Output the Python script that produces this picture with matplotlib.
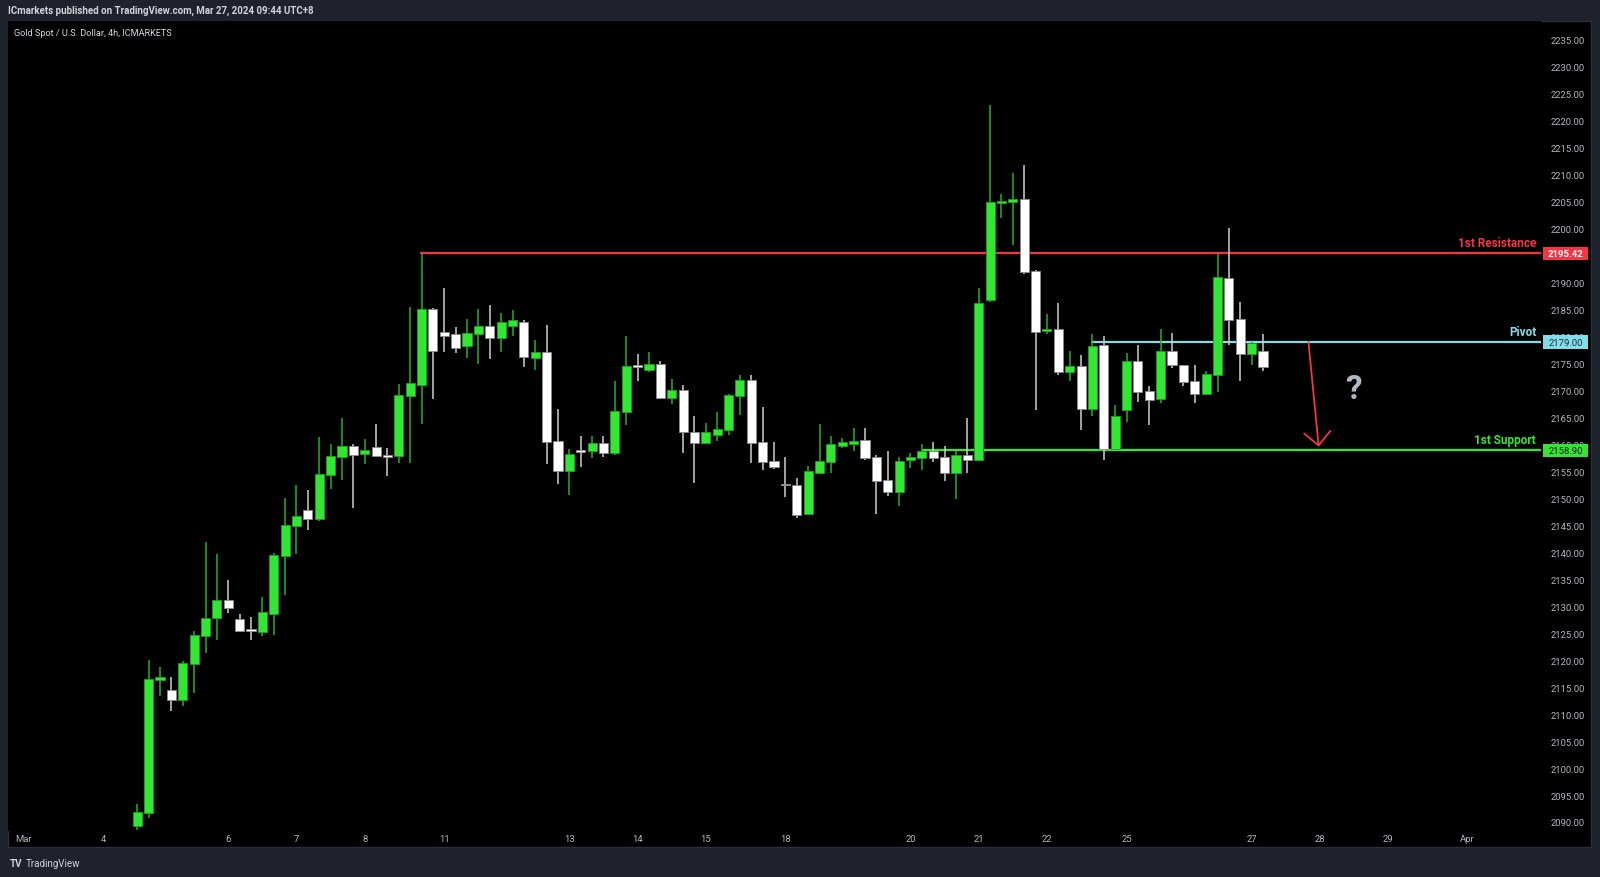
import numpy as np
import matplotlib
matplotlib.use("Agg")
import matplotlib.pyplot as plt
from matplotlib.patches import Rectangle
from matplotlib.transforms import blended_transform_factory

plt.rcParams['font.family'] = ['Roboto', 'DejaVu Sans']

# 4h candles, XAUUSD (ICMarkets), Mar 4 - Mar 27 2024
opens = [2089.2, 2091.6, 2116.4, 2114.5, 2112.6, 2119.3, 2124.5, 2127.8, 2131.2, 2127.6,
         2125.6, 2125.3, 2128.5, 2139.4, 2144.8, 2147.8, 2146.2, 2154.4, 2157.7, 2159.7,
         2158.2, 2159.5, 2157.9, 2157.9, 2169.0, 2171.1, 2185.1, 2180.8, 2180.4, 2178.2,
         2180.4, 2181.9, 2179.7, 2181.9, 2182.8, 2176.1, 2177.1, 2160.6, 2155.0, 2158.8,
         2158.7, 2160.3, 2158.4, 2166.1, 2174.5, 2173.8, 2174.9, 2168.7, 2170.1, 2162.4,
         2160.2, 2161.8, 2162.6, 2169.0, 2171.9, 2160.4, 2156.9, 2152.6, 2152.5, 2147.1,
         2154.8, 2156.7, 2159.8, 2160.1, 2160.8, 2157.7, 2153.4, 2151.1, 2157.1, 2157.5,
         2158.8, 2157.6, 2154.8, 2158.0, 2157.1, 2186.7, 2204.8, 2204.9, 2205.5, 2192.1,
         2181.0, 2181.4, 2173.4, 2174.5, 2166.6, 2178.4, 2159.2, 2166.3, 2175.4, 2170.0,
         2168.4, 2177.3, 2174.7, 2171.8, 2169.4, 2172.9, 2190.9, 2183.3, 2176.7, 2177.4]
highs = [2093.3, 2120.0, 2118.7, 2116.9, 2119.8, 2125.4, 2142.0, 2139.7, 2134.9, 2128.6,
         2128.1, 2131.8, 2139.9, 2150.1, 2152.4, 2151.6, 2161.4, 2160.0, 2164.9, 2160.0,
         2161.0, 2163.8, 2159.3, 2171.2, 2185.5, 2195.4, 2185.3, 2189.1, 2181.7, 2183.3,
         2185.2, 2185.8, 2184.4, 2184.9, 2183.1, 2179.3, 2182.2, 2166.6, 2159.2, 2161.6,
         2161.6, 2161.6, 2171.8, 2180.1, 2176.8, 2177.2, 2175.5, 2172.1, 2171.0, 2165.2,
         2163.9, 2166.1, 2169.4, 2172.9, 2172.9, 2166.9, 2160.4, 2157.6, 2153.8, 2156.1,
         2163.8, 2161.5, 2161.2, 2163.0, 2163.0, 2158.0, 2158.8, 2157.6, 2158.5, 2160.1,
         2160.4, 2159.7, 2158.8, 2165.0, 2189.0, 2223.0, 2206.4, 2210.3, 2211.8, 2192.3,
         2184.2, 2186.2, 2177.4, 2176.5, 2180.4, 2180.1, 2167.3, 2177.0, 2178.5, 2170.8,
         2181.5, 2180.7, 2174.8, 2174.7, 2173.7, 2195.3, 2200.1, 2186.4, 2179.0, 2180.5]
lows = [2088.5, 2090.7, 2113.4, 2110.6, 2111.5, 2114.0, 2121.3, 2123.8, 2128.7, 2125.3,
        2123.8, 2124.5, 2124.7, 2132.1, 2139.6, 2144.2, 2145.8, 2151.7, 2153.4, 2148.2,
        2156.3, 2157.6, 2154.1, 2156.6, 2156.5, 2163.8, 2168.4, 2177.2, 2177.0, 2176.0,
        2174.9, 2175.8, 2177.2, 2180.2, 2174.3, 2173.9, 2156.3, 2152.7, 2150.7, 2155.9,
        2157.4, 2157.7, 2158.1, 2163.7, 2171.8, 2173.4, 2168.5, 2167.5, 2158.5, 2152.9,
        2160.0, 2160.7, 2161.8, 2165.5, 2156.6, 2155.3, 2155.5, 2150.3, 2146.4, 2146.9,
        2154.6, 2154.7, 2159.3, 2158.7, 2157.2, 2147.2, 2150.5, 2148.6, 2155.6, 2155.3,
        2156.7, 2153.2, 2149.8, 2154.8, 2157.0, 2186.5, 2201.9, 2197.0, 2191.7, 2166.4,
        2180.4, 2172.8, 2171.8, 2162.7, 2165.3, 2157.2, 2159.0, 2164.1, 2167.8, 2163.6,
        2167.7, 2174.1, 2170.9, 2167.7, 2169.2, 2169.7, 2178.5, 2171.7, 2174.8, 2173.6]
closes = [2091.8, 2116.6, 2116.8, 2112.7, 2119.4, 2124.7, 2127.8, 2131.2, 2129.6, 2125.4,
          2125.4, 2128.9, 2139.5, 2145.1, 2146.7, 2146.2, 2154.5, 2157.8, 2159.7, 2158.1,
          2159.0, 2157.8, 2157.7, 2169.2, 2171.4, 2185.1, 2177.4, 2180.2, 2177.9, 2180.6,
          2181.9, 2179.7, 2182.7, 2183.0, 2176.3, 2177.1, 2160.4, 2155.0, 2158.2, 2158.6,
          2160.3, 2158.4, 2166.2, 2174.6, 2174.3, 2174.9, 2168.7, 2170.1, 2162.4, 2160.2,
          2162.3, 2162.8, 2169.2, 2171.9, 2160.2, 2156.8, 2155.8, 2152.4, 2147.0, 2155.0,
          2156.9, 2160.0, 2160.4, 2160.6, 2157.5, 2153.2, 2151.1, 2156.9, 2157.6, 2158.8,
          2157.4, 2154.8, 2158.0, 2157.1, 2186.2, 2204.9, 2205.0, 2205.5, 2191.9, 2180.9,
          2181.4, 2173.4, 2174.5, 2166.6, 2178.3, 2159.2, 2165.3, 2175.4, 2169.8, 2168.3,
          2177.3, 2174.7, 2171.6, 2169.4, 2173.1, 2191.0, 2183.1, 2176.7, 2178.8, 2174.4]

date_pos = [-10, -3, 8, 14, 20, 27, 38, 44, 50, 57, 68, 74, 80, 87, 98, 104, 110, 117]
date_labels = ['Mar', '4', '6', '7', '8', '11', '13', '14', '15', '18',
               '20', '21', '22', '25', '27', '28', '29', 'Apr']

price_ticks = np.arange(2090, 2236, 5)

# drawn levels and where each one starts (bar index)
resistance = 2195.42
pivot = 2179.00
support = 2158.90
res_start, piv_start, sup_start = 24.9, 83.9, 69.0
arrow_from = (103.0, 2179.0)
arrow_to = (103.9, 2159.6)
question_at = (107.0, 2170.3)

RED = '#f23645'
CYAN = '#80deea'
GREEN = '#33e633'
BG = '#1e222d'

W, H = 1600, 878
fig = plt.figure(figsize=(W / 100, H / 100), dpi=100, facecolor=BG)

def fx(px):
    return px / W

def fy(py):
    return 1 - py / H

# black chart pane
fig.patches.append(Rectangle((fx(8), fy(848)), fx(1591) - fx(8), (848 - 22) / H,
                             transform=fig.transFigure, facecolor='black',
                             edgecolor='#2a2e39', lw=1, zorder=-5))

ax = fig.add_axes([fx(8), fy(832), fx(1541) - fx(8), (832 - 22) / H])
ax.set_zorder(2)
ax.set_facecolor('black')
for s in ax.spines.values():
    s.set_visible(False)

x = np.arange(len(opens))
o = np.array(opens)
c = np.array(closes)
up = c >= o
body_col = np.where(up, GREEN, '#ffffff')
edge_col = np.where(up, '#1f9f1f', '#8c8c8c')
wick_col = np.where(up, '#28b028', '#cfcfcf')

ax.vlines(x, lows, highs, colors=wick_col, lw=1.1, zorder=3)
heights = np.maximum(np.abs(c - o), 0.35)
ax.bar(x, heights, bottom=np.minimum(o, c), width=0.8, color=body_col,
       edgecolor=edge_col, linewidth=0.6, zorder=4)

xmax = 123.45
ax.hlines(resistance, res_start, xmax, color=RED, lw=1.6, zorder=2)
ax.hlines(pivot, piv_start, xmax, color=CYAN, lw=1.6, zorder=2)
ax.hlines(support, sup_start, xmax, color=GREEN, lw=1.6, zorder=2)

ax.annotate('', xy=arrow_to, xytext=arrow_from,
            arrowprops=dict(arrowstyle='->,head_length=0.95,head_width=0.95',
                            color=RED, lw=1.3, shrinkA=0, shrinkB=0,
                            mutation_scale=10), zorder=5)
ax.text(question_at[0], question_at[1], '?', color='#b0b9c3', fontsize=24,
        fontweight='bold', ha='center', va='center', zorder=5)

ax.set_xlim(-11.37, xmax)
ax.set_ylim(2088.33, 2238.52)

ax.yaxis.tick_right()
ax.set_yticks(price_ticks)
# the 2195 tick sits fully under the resistance price tag
ax.set_yticklabels(['' if p == 2195 else f'{p:.2f}' for p in price_ticks])
ax.tick_params(axis='y', length=0, pad=7.2, labelsize=6.8, labelcolor='#b2b5be')
ax.set_xticks(date_pos)
ax.set_xticklabels(date_labels)
ax.tick_params(axis='x', length=0, pad=2.5, labelsize=6.8, labelcolor='#b2b5be')

# level labels and price tags on the axis
trans = blended_transform_factory(fig.transFigure, ax.transData)
for price, name, col, txt_col in [(resistance, '1st Resistance', RED, 'white'),
                                  (pivot, 'Pivot', CYAN, '#2a2e39'),
                                  (support, '1st Support', GREEN, '#1a1a1a')]:
    ax.text(fx(1536), price + 1.95, name, transform=trans, ha='right', va='center',
            color=col, fontsize=8.5, fontweight='bold', clip_on=False, zorder=6)
    ax.add_patch(Rectangle((fx(1543), price - 1.25), fx(1588) - fx(1543), 2.5,
                           transform=trans, facecolor=col, edgecolor='none',
                           clip_on=False, zorder=6))
    ax.text(fx(1566), price, f'{price:.2f}', transform=trans, ha='center', va='center',
            color=txt_col, fontsize=6.8, fontweight='bold' if col == RED else 'normal',
            clip_on=False, zorder=7)

fig.text(fx(8), fy(11), 'ICmarkets published on TradingView.com, Mar 27, 2024 09:44 UTC+8',
         color='#d1d4dc', fontsize=7, fontweight='bold', ha='left', va='center')
fig.text(fx(14), fy(33), 'Gold Spot / U.S. Dollar, 4h, ICMARKETS',
         color='#d1d4dc', fontsize=6.6, ha='left', va='center', zorder=10)
fig.text(fx(10), fy(864), 'TV', color='#d1d4dc', fontsize=7, fontweight='bold',
         ha='left', va='center')
fig.text(fx(26), fy(864), 'TradingView', color='#d1d4dc', fontsize=7,
         ha='left', va='center')

fig.savefig('out.png', dpi=100, facecolor=BG)
